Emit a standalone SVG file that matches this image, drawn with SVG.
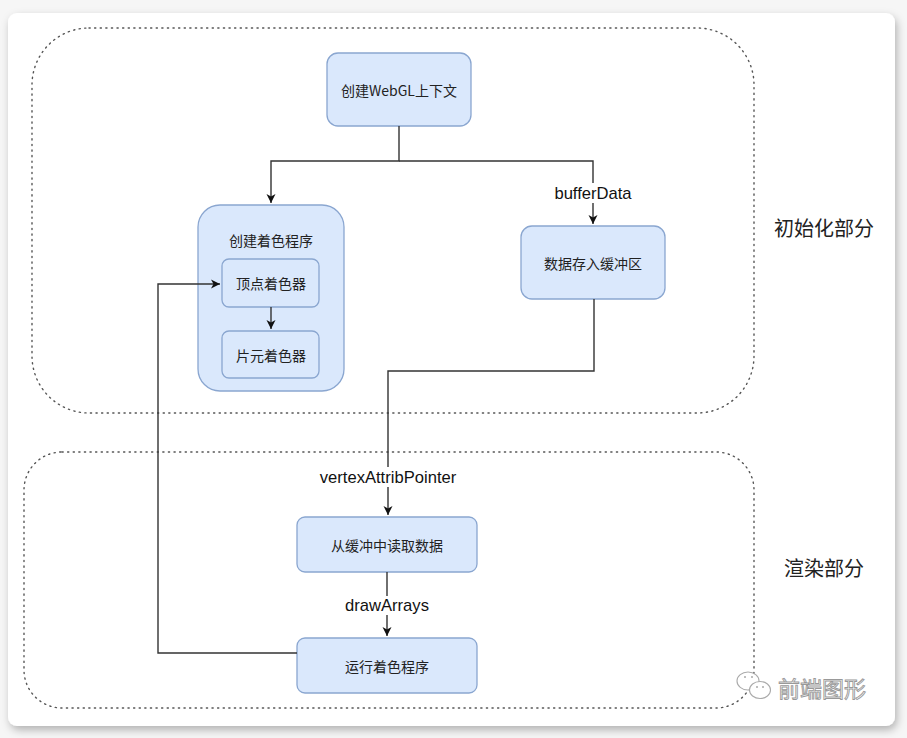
<svg xmlns="http://www.w3.org/2000/svg" width="907" height="738" viewBox="0 0 907 738">
  <defs>
    <filter id="shadow" x="-5%" y="-5%" width="110%" height="112%">
      <feDropShadow dx="2" dy="4" stdDeviation="4" flood-color="#000" flood-opacity="0.28"/>
    </filter>
    <marker id="arrow" markerWidth="10" markerHeight="10" refX="9" refY="5" orient="auto" markerUnits="userSpaceOnUse">
      <path d="M0,0.5 L9,5 L0,9.5 L2.5,5 z" fill="#111"/>
    </marker>
    <style>
      .node { fill: #dae8fc; stroke: #8aa6d0; stroke-width: 1.3; }
      .group { fill: none; stroke: #555; stroke-width: 1.4; stroke-dasharray: 1.2 4.4; stroke-linecap: round; }
      .edge { fill: none; stroke: #333; stroke-width: 1.4; }
      .cjk { font-family: "Noto Sans CJK SC", "Noto Sans", sans-serif; fill: #222; text-anchor: middle; dominant-baseline: central; }
      .lbl { font-family: "Liberation Sans", Arial, sans-serif; font-size: 16.6px; fill: #111; text-anchor: middle; dominant-baseline: central; }
      .t14 { font-size: 14px; }
      .t20 { font-size: 20px; }
    </style>
  </defs>

  <rect x="0" y="0" width="907" height="738" fill="#f6f6f6"/>
  <rect x="8" y="13" width="887" height="713" rx="9" fill="#ffffff" filter="url(#shadow)"/>

  <g id="groups">
    <rect id="group-init" class="group" x="32" y="28" width="722" height="385" rx="57"/>
    <rect id="group-render" class="group" x="24" y="452" width="730" height="256" rx="38"/>
  </g>

  <g id="node-webgl">
    <rect class="node" x="327" y="53" width="144" height="73" rx="11"/>
    <text class="cjk t14" x="399" y="90">创建WebGL上下文</text>
  </g>

  <g id="node-program">
    <rect class="node" x="198" y="205" width="146" height="186" rx="22"/>
    <text class="cjk t14" x="271" y="240">创建着色程序</text>
  </g>

  <g id="node-vertex">
    <rect class="node" x="222" y="259" width="97" height="48" rx="7"/>
    <text class="cjk t14" x="271" y="283">顶点着色器</text>
  </g>

  <g id="node-fragment">
    <rect class="node" x="222" y="331" width="97" height="47" rx="7"/>
    <text class="cjk t14" x="271" y="355">片元着色器</text>
  </g>

  <g id="node-buffer">
    <rect class="node" x="521" y="226" width="144" height="73" rx="11"/>
    <text class="cjk t14" x="593" y="263">数据存入缓冲区</text>
  </g>

  <g id="node-read">
    <rect class="node" x="297" y="517" width="180" height="55" rx="8"/>
    <text class="cjk t14" x="387" y="545">从缓冲中读取数据</text>
  </g>

  <g id="node-run">
    <rect class="node" x="297" y="638" width="180" height="55" rx="8"/>
    <text class="cjk t14" x="387" y="666">运行着色程序</text>
  </g>

  <g id="connectors">
    <path class="edge" d="M399,126 V161 H271 V203" marker-end="url(#arrow)"/>
    <path class="edge" d="M399,161 H593 V224" marker-end="url(#arrow)"/>
    <path class="edge" d="M271,307 V329" marker-end="url(#arrow)"/>
    <path class="edge" d="M594,299 V371 H388 V515" marker-end="url(#arrow)"/>
    <path class="edge" d="M387,572 V636" marker-end="url(#arrow)"/>
    <path class="edge" d="M297,653 H158 V284 H220" marker-end="url(#arrow)"/>
    <rect x="553" y="183" width="80" height="20" fill="#fff"/>
    <text class="lbl" x="593" y="193">bufferData</text>
    <rect x="318" y="467" width="140" height="20" fill="#fff"/>
    <text class="lbl" x="388" y="477">vertexAttribPointer</text>
    <rect x="344" y="596" width="88" height="19" fill="#fff"/>
    <text class="lbl" x="387" y="605">drawArrays</text>
  </g>

  <g id="label-init">
    <text class="cjk t20" x="824" y="227">初始化部分</text>
  </g>
  <g id="label-render">
    <text class="cjk t20" x="824" y="567">渲染部分</text>
  </g>

  <g id="watermark">
    <ellipse cx="748" cy="681" rx="11" ry="9" fill="#fff" stroke="#aaa" stroke-width="1.1"/>
    <ellipse cx="760" cy="690" rx="10.5" ry="8.5" fill="#fff" stroke="#aaa" stroke-width="1.1"/>
    <circle cx="745" cy="677" r="1" fill="#aaa"/>
    <circle cx="752" cy="677" r="1" fill="#aaa"/>
    <circle cx="757" cy="687" r="1" fill="#aaa"/>
    <circle cx="763" cy="687" r="1" fill="#aaa"/>
    <text x="822" y="687" font-family="Noto Sans CJK SC, Noto Sans, sans-serif" font-size="22" fill="#fff" stroke="#999" stroke-width="0.9" text-anchor="middle" dominant-baseline="central">前端图形</text>
  </g>
</svg>
